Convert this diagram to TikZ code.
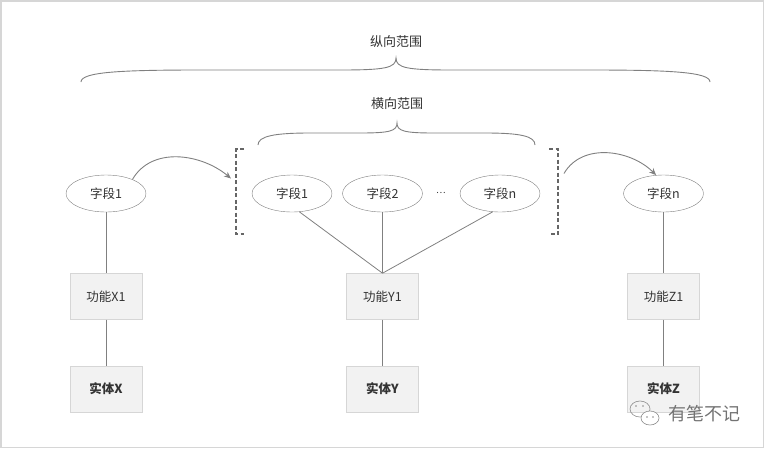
\documentclass[tikz,border=0pt]{standalone}
\usepackage{fontspec}
\setmainfont{Noto Sans CJK SC}
\usetikzlibrary{shapes,arrows.meta,calc,positioning}
\definecolor{linegray}{HTML}{808080}
\definecolor{boxfill}{HTML}{F2F2F2}
\definecolor{boxline}{HTML}{D6D6D6}
\definecolor{txtgray}{HTML}{333333}
\tikzset{
    auto,semithick,
    field/.style ={ellipse, draw=linegray, fill=white, minimum width=80pt, minimum height=37pt, inner sep=0pt, font=\fontsize{12.5}{14}\selectfont, text=txtgray},
    func/.style = {rectangle, draw=boxline, fill=boxfill, minimum width=72pt, minimum height=46pt, inner sep=0pt, font=\fontsize{12.5}{14}\selectfont, text=txtgray},
    entity/.style = {func, font=\fontsize{12.5}{14}\selectfont\bfseries},
    link/.style = {draw=linegray, line width=0.8pt},
    hop/.style = {-{Stealth[length=7pt,width=6pt]}, draw=linegray, line width=0.9pt},
    bracket/.style = {draw=black!60, line width=2pt, dash pattern=on 4pt off 2.5pt},
    brace/.style = {draw=linegray, line width=0.9pt},
    lbl/.style = {font=\fontsize{13}{15}\selectfont, text=txtgray}
}
\begin{document}
\begin{tikzpicture}[x=1pt,y=1pt]
  \useasboundingbox (0,0) rectangle (765,-448);
  \draw[boxline, line width=1.5pt] (0.75,-0.75) rectangle (763.5,-447.25);

  % ranges
  \node[lbl] (vr) at (396,-42) {纵向范围};
  \node[lbl] (hr) at (397,-104) {横向范围};
  \path[brace] (81,-82) .. controls (81,-72) and (120,-70) .. (200,-70) -- (340,-70)
     .. controls (385,-70) and (396,-68) .. (396,-58)
     .. controls (396,-68) and (407,-70) .. (452,-70) -- (590,-70)
     .. controls (670,-70) and (710,-72) .. (710,-82);
  \path[brace] (258,-145) .. controls (258,-136) and (275,-133) .. (310,-133) -- (360,-133)
     .. controls (390,-133) and (397,-131) .. (397,-123)
     .. controls (397,-131) and (404,-133) .. (434,-133) -- (485,-133)
     .. controls (520,-133) and (535,-136) .. (535,-145);

  % fields
  \node[field] (f1) at (106,-193.5) {字段1};
  \node[field] (m1) at (292,-193.5) {字段1};
  \node[field] (m2) at (382.5,-193.5) {字段2};
  \node[text=txtgray, font=\small] (dots) at (441,-193) {…};
  \node[field] (mn) at (500,-193.5) {字段n};
  \node[field] (fn) at (663.5,-193.5) {字段n};

  % brackets
  \coordinate (lb) at (236,-191.5);
  \coordinate (rb) at (558,-191.5);
  \draw[bracket] (244,-149) -- (236,-149) -- (236,-234) -- (244,-234);
  \draw[bracket] (549,-149) -- (558,-149) -- (558,-234) -- (549,-234);

  % functions and entities
  \node[func] (x1) [below =61pt of f1] {功能X1};
  \node[func] (y1) [below =61pt of m2] {功能Y1};
  \node[func] (z1) [below =61pt of fn] {功能Z1};
  \node[entity] (ex) [below =46pt of x1] {实体X};
  \node[entity] (ey) [below =46pt of y1] {实体Y};
  \node[entity] (ez) [below =46pt of z1] {实体Z};

  \path[link] (f1) -- (x1);
  \path[link] (x1) -- (ex);
  \path[link] (m1.-68) -- (y1.north);
  \path[link] (m2) -- (y1);
  \path[link] (mn.-112) -- (y1.north);
  \path[link] (y1) -- (ey);
  \path[link] (fn) -- (z1);
  \path[link] (z1) -- (ez);

  \draw[hop] (f1.28) to[out=60,in=140] ($(lb)+(-5,13)$);
  \draw[hop] ($(rb)+(6,18)$) to[out=60,in=135] (fn.112);

  % watermark
  \node[text=black!55, font=\fontsize{18}{20}\selectfont] (wm) at (704,-414) {有笔不记};
  \draw[black!45, line width=0.6pt] (640,-409) ellipse (10pt and 8pt);
  \draw[black!45, line width=0.6pt, fill=white] (650,-418) ellipse (9pt and 7pt);
  \fill[black!45] (636,-406) circle (0.9pt) (643,-406) circle (0.9pt)
                  (647,-417) circle (0.8pt) (653,-417) circle (0.8pt);
\end{tikzpicture}
\end{document}
